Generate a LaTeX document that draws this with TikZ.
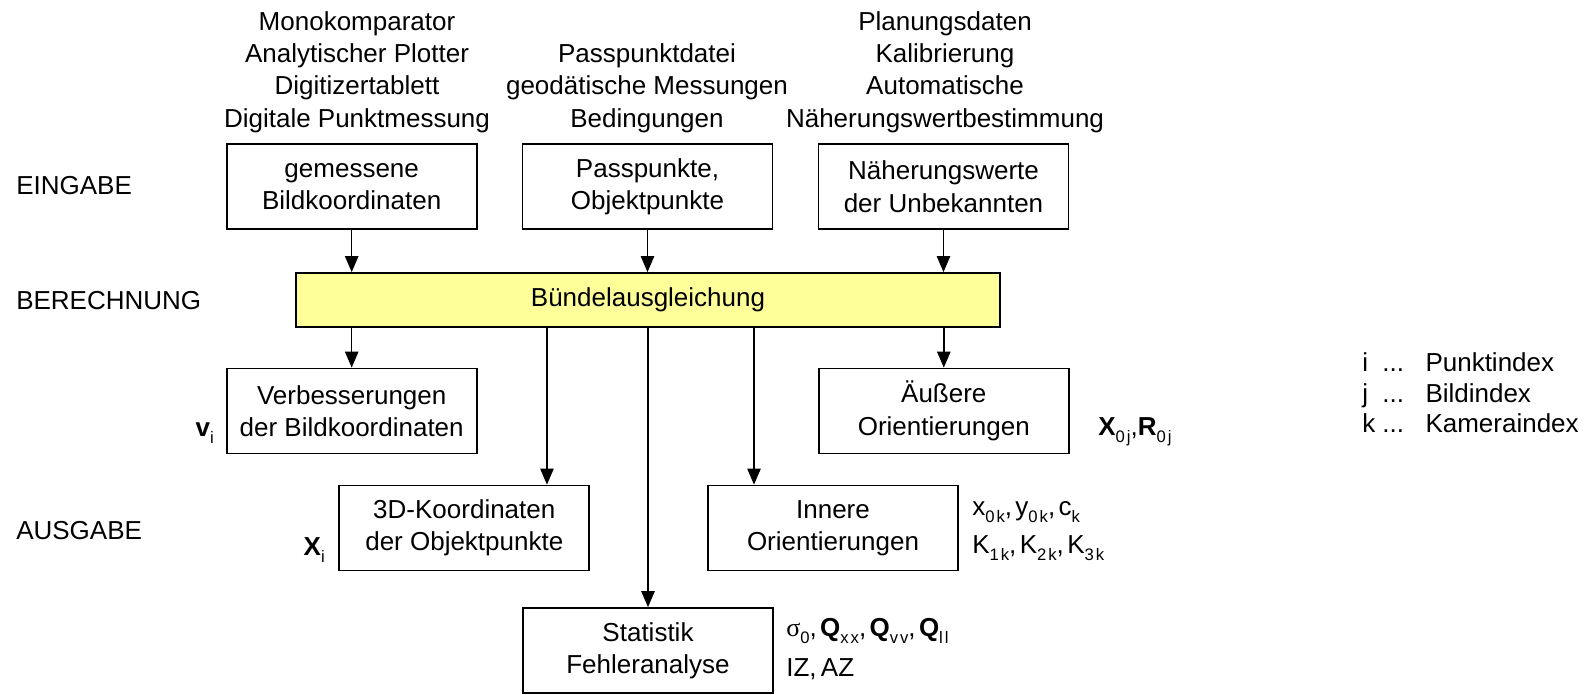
\documentclass[tikz,border=0pt]{standalone}
\usepackage{fontspec}
\setmainfont{Liberation Sans}
\newfontfamily\greekfont{Liberation Serif}
\usetikzlibrary{arrows.meta}

\definecolor{bundlefill}{RGB}{255,255,153}
% small lowered index, slightly spaced out
\newcommand{\lowix}[1]{\raisebox{-0.3em}{\fontsize{12.5}{12.5}\selectfont\addfontfeatures{LetterSpace=12}#1}}
\newcommand{\lsep}{,\kern2.5pt}

\tikzset{
	txt/.style = {inner sep=0pt, align=center, font=\fontsize{19.5}{24.3}\selectfont},
	box/.style = {txt, draw, line width=1.3pt, minimum width=187.5pt, minimum height=63.75pt},
	flow/.style = {-{Triangle[width=10pt,length=12pt]}, line width=1.1pt}
}

\begin{document}
\begin{tikzpicture}[x=0.75pt, y=-0.75pt]
				\useasboundingbox (0,0) rectangle (1589,694);
				%row labels
				\node[txt, anchor=west] (eingabe) at (16,186) {EINGABE};
				\node[txt, anchor=west] (berechnung) at (16,301) {BERECHNUNG};
				\node[txt, anchor=west] (ausgabe) at (16,531) {AUSGABE};
				%sources of the input
				\node[txt] (devices) at (357,72) {Monokomparator\\Analytischer Plotter\\Digitizertablett\\Digitale Punktmessung};
				\node[txt] (files) at (647,88) {Passpunktdatei\\geodätische Messungen\\Bedingungen};
				\node[txt] (planning) at (945,72) {Planungsdaten\\Kalibrierung\\Automatische\\Näherungswertbestimmung};
				%input boxes
				\node[box] (gem) at (351.7,186.5) {gemessene\\Bildkoordinaten};
				\node[box] (pass) at (647.5,186.5) {Passpunkte,\\Objektpunkte};
				\node[box] (naeh) at (943.5,186.5) {Näherungswerte\\der Unbekannten};
				%adjustment
				\node[box, fill=bundlefill, minimum width=528pt, minimum height=40.5pt] (bundle) at (648,300) {Bündelausgleichung};
				%output boxes
				\node[box] (verb) at (351.7,411) {Verbesserungen\\der Bildkoordinaten};
				\node[box] (aeuss) at (943.8,411) {Äußere\\Orientierungen};
				\node[box] (obj) at (464.3,528) {3D-Koordinaten\\der Objektpunkte};
				\node[box] (inner) at (833,528) {Innere\\Orientierungen};
				\node[box] (stat) at (648,650.5) {Statistik\\Fehleranalyse};
				%arrows in
				\draw[flow] (gem.south) -- (gem.south |- bundle.north);
				\draw[flow] (pass.south) -- (pass.south |- bundle.north);
				\draw[flow] (naeh.south) -- (naeh.south |- bundle.north);
				%arrows out
				\draw[flow] (verb.north |- bundle.south) -- (verb.north);
				\draw[flow] (aeuss.north |- bundle.south) -- (aeuss.north);
				\draw[flow] ([xshift=62pt]obj.north |- bundle.south) -- ([xshift=62pt]obj.north);
				\draw[flow] ([xshift=-59.25pt]inner.north |- bundle.south) -- ([xshift=-59.25pt]inner.north);
				\draw[flow] (stat.north |- bundle.south) -- (stat.north);
				%unknowns next to the boxes
				\node[txt, anchor=base east] (vi) at (214,436) {\textbf{v}\lowix{i}};
				\node[txt, anchor=base east] (xi) at (325,555) {\textbf{X}\lowix{i}};
				\node[txt, anchor=base west] (ext) at (1098,435) {\textbf{X}\lowix{0j},\textbf{R}\lowix{0j}};
				\node[txt, anchor=base west] (int1) at (972,515) {x\lowix{0k}\lsep y\lowix{0k}\lsep c\lowix{k}};
				\node[txt, anchor=base west] (int2) at (972,553) {K\lowix{1k}\lsep K\lowix{2k}\lsep K\lowix{3k}};
				\node[txt, anchor=base west] (stat1) at (786,636) {{\greekfont σ}\lowix{0}\lsep\textbf{Q}\lowix{xx}\lsep\textbf{Q}\lowix{vv}\lsep\textbf{Q}\lowix{ll}};
				\node[txt, anchor=base west] (stat2) at (786,676) {IZ,\,AZ};
				%index legend
				\node[txt, anchor=west, font=\fontsize{19.5}{23}\selectfont] (legend) at (1362,396) {\begin{tabular}{@{}l@{\hspace{16pt}}l@{}}
					i\ \ ... & Punktindex\\
					j\ \ ... & Bildindex\\
					k\ ... & Kameraindex
				\end{tabular}};
			\end{tikzpicture}
\end{document}
